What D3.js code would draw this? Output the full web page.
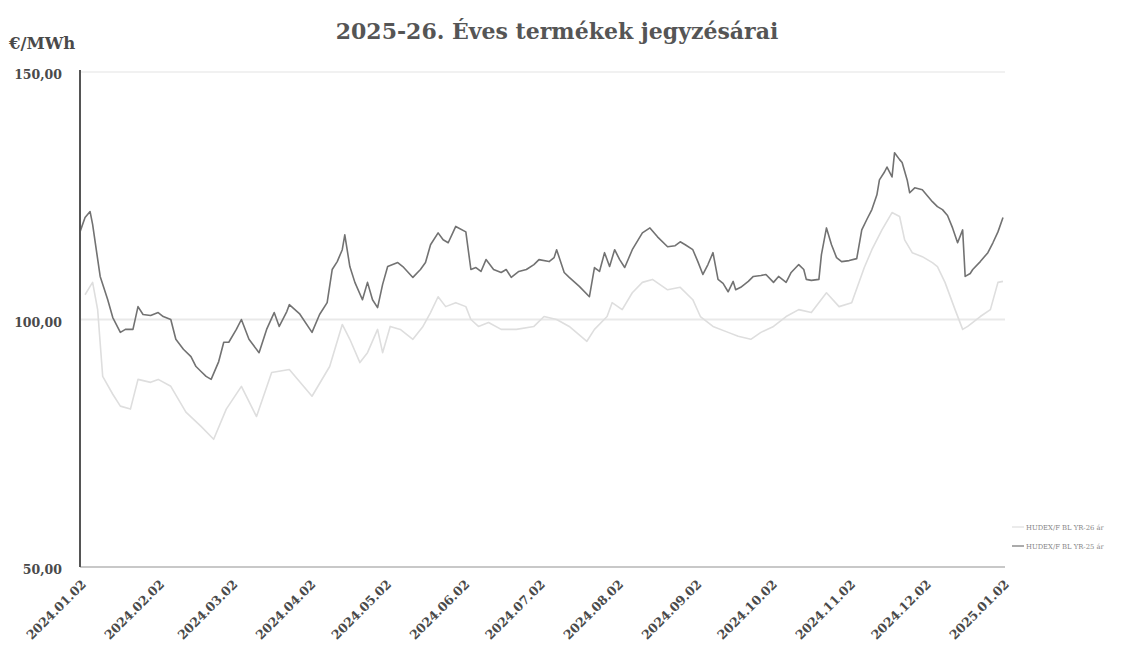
<!DOCTYPE html>
<html>
<head>
<meta charset="utf-8">
<script src="https://cdn.jsdelivr.net/npm/d3@7"></script>
<style>
  body { margin: 0; background: #fff; }
  svg { display: block; }
</style>
</head>
<body>
<div id="chart"></div>
<script>
// upper (dark) product
const darkDates = ["2024-01-02","2024-01-04","2024-01-06","2024-01-07","2024-01-10","2024-01-13","2024-01-15","2024-01-18","2024-01-20","2024-01-23","2024-01-25","2024-01-27","2024-01-30","2024-02-02","2024-02-04","2024-02-07","2024-02-09","2024-02-12","2024-02-15","2024-02-17","2024-02-19","2024-02-21","2024-02-23","2024-02-26","2024-02-28","2024-03-01","2024-03-04","2024-03-06","2024-03-09","2024-03-13","2024-03-16","2024-03-19","2024-03-21","2024-03-24","2024-03-25","2024-03-29","2024-04-03","2024-04-06","2024-04-09","2024-04-11","2024-04-13","2024-04-15","2024-04-16","2024-04-18","2024-04-20","2024-04-23","2024-04-25","2024-04-27","2024-04-29","2024-05-01","2024-05-03","2024-05-07","2024-05-09","2024-05-13","2024-05-16","2024-05-18","2024-05-20","2024-05-23","2024-05-25","2024-05-27","2024-05-29","2024-05-30","2024-06-03","2024-06-05","2024-06-07","2024-06-09","2024-06-11","2024-06-14","2024-06-17","2024-06-19","2024-06-21","2024-06-24","2024-06-27","2024-06-30","2024-07-02","2024-07-06","2024-07-08","2024-07-09","2024-07-12","2024-07-14","2024-07-18","2024-07-22","2024-07-24","2024-07-26","2024-07-28","2024-07-30","2024-08-01","2024-08-03","2024-08-05","2024-08-08","2024-08-12","2024-08-15","2024-08-18","2024-08-22","2024-08-25","2024-08-27","2024-08-29","2024-09-01","2024-09-03","2024-09-05","2024-09-07","2024-09-09","2024-09-11","2024-09-13","2024-09-15","2024-09-17","2024-09-18","2024-09-20","2024-09-23","2024-09-25","2024-09-28","2024-09-30","2024-10-03","2024-10-05","2024-10-08","2024-10-10","2024-10-13","2024-10-15","2024-10-16","2024-10-18","2024-10-21","2024-10-22","2024-10-24","2024-10-26","2024-10-28","2024-10-30","2024-11-02","2024-11-05","2024-11-07","2024-11-09","2024-11-11","2024-11-13","2024-11-14","2024-11-16","2024-11-17","2024-11-19","2024-11-20","2024-11-22","2024-11-23","2024-11-25","2024-11-26","2024-11-28","2024-12-01","2024-12-03","2024-12-05","2024-12-07","2024-12-09","2024-12-11","2024-12-13","2024-12-15","2024-12-17","2024-12-18","2024-12-20","2024-12-21","2024-12-24","2024-12-27","2024-12-29","2024-12-31","2025-01-02"];
const darkValues = [117.7,120.6,121.8,119.2,108.7,104.0,100.4,97.4,98.0,98.0,102.6,101.0,100.8,101.4,100.6,100.0,96.0,94.0,92.5,90.5,89.5,88.5,87.9,91.5,95.4,95.4,98.0,100.0,96.0,93.3,98.0,101.4,98.6,101.6,103.0,101.2,97.4,101.0,103.4,110.1,111.7,114.1,117.1,110.7,107.5,104.0,107.5,104.0,102.4,107.1,110.7,111.5,110.7,108.5,110.1,111.5,115.1,117.5,116.1,115.5,117.7,118.8,117.7,110.1,110.5,109.7,112.1,110.1,109.5,110.1,108.5,109.7,110.1,111.1,112.1,111.7,112.5,114.1,109.5,108.5,106.7,104.6,110.5,109.7,113.5,110.7,114.1,112.1,110.5,114.1,117.5,118.5,116.7,114.7,114.9,115.7,115.1,114.1,111.7,109.1,111.1,113.5,108.1,107.3,105.6,107.7,106.0,106.5,107.7,108.7,108.9,109.1,107.5,108.7,107.5,109.5,111.1,110.1,108.1,107.9,108.1,113.1,118.5,115.1,112.5,111.7,111.9,112.3,118.1,120.2,122.2,125.2,128.2,129.8,130.8,128.8,133.7,132.3,131.7,128.2,125.6,126.6,126.2,125.0,123.8,122.8,122.2,121.0,118.5,115.5,118.1,108.7,109.3,110.1,111.7,113.5,115.5,117.7,120.6];

// lower (light) product
const lightDates = ["2024-01-04","2024-01-06","2024-01-07","2024-01-09","2024-01-11","2024-01-15","2024-01-18","2024-01-22","2024-01-25","2024-01-30","2024-02-02","2024-02-07","2024-02-13","2024-02-19","2024-02-24","2024-02-29","2024-03-06","2024-03-12","2024-03-18","2024-03-25","2024-04-03","2024-04-10","2024-04-15","2024-04-18","2024-04-22","2024-04-25","2024-04-29","2024-05-01","2024-05-04","2024-05-08","2024-05-13","2024-05-17","2024-05-20","2024-05-23","2024-05-26","2024-05-30","2024-06-03","2024-06-05","2024-06-08","2024-06-12","2024-06-17","2024-06-23","2024-06-30","2024-07-04","2024-07-09","2024-07-14","2024-07-21","2024-07-24","2024-07-29","2024-07-31","2024-08-04","2024-08-08","2024-08-12","2024-08-16","2024-08-22","2024-08-27","2024-09-01","2024-09-04","2024-09-09","2024-09-15","2024-09-19","2024-09-24","2024-09-28","2024-10-03","2024-10-08","2024-10-13","2024-10-18","2024-10-24","2024-10-29","2024-11-03","2024-11-08","2024-11-11","2024-11-15","2024-11-19","2024-11-22","2024-11-24","2024-11-27","2024-12-01","2024-12-05","2024-12-07","2024-12-10","2024-12-14","2024-12-17","2024-12-19","2024-12-24","2024-12-28","2024-12-31","2025-01-02"];
const lightValues = [105.0,106.7,107.5,102.0,88.5,84.9,82.5,81.9,87.9,87.3,87.9,86.5,81.3,78.4,75.8,81.9,86.5,80.4,89.3,89.9,84.5,90.5,99.0,96.0,91.3,93.3,98.0,93.3,98.6,98.0,96.0,98.6,101.4,104.6,102.6,103.4,102.6,100.0,98.6,99.4,98.0,98.0,98.6,100.6,100.0,98.6,95.6,98.0,100.6,103.4,102.0,105.4,107.5,108.1,106.0,106.5,104.0,100.6,98.6,97.4,96.6,96.0,97.4,98.6,100.6,102.0,101.4,105.4,102.6,103.4,110.5,114.1,118.1,121.6,120.8,116.1,113.5,112.7,111.5,110.7,107.5,102.0,98.0,98.6,100.6,102.0,107.5,107.7];

const yTicks = [50, 100, 150];
const xTicks = ["2024-01-02","2024-02-02","2024-03-02","2024-04-02","2024-05-02","2024-06-02","2024-07-02","2024-08-02","2024-09-02","2024-10-02","2024-11-02","2024-12-02","2025-01-02"];
const legendNames = ["HUDEX/F BL YR-26 ár", "HUDEX/F BL YR-25 ár"];

const width = 1130, height = 652;
const margin = { top: 72, right: 127, bottom: 85, left: 80 };
const parse = d3.timeParse("%Y-%m-%d");
const fmt = d3.timeFormat("%Y.%m.%d");
const serif = "'DejaVu Serif', 'Liberation Serif', serif";

const dark = darkDates.map((d, i) => ({ date: parse(d), v: darkValues[i] }));
const light = lightDates.map((d, i) => ({ date: parse(d), v: lightValues[i] }));

const svg = d3.select("#chart").append("svg")
  .attr("width", width).attr("height", height)
  .style("font-family", serif);

const x = d3.scaleTime()
  .domain([parse(xTicks[0]), parse(xTicks[xTicks.length - 1])])
  .range([margin.left, width - margin.right]);
const y = d3.scaleLinear().domain([50, 150]).range([height - margin.bottom, margin.top]);

// horizontal rules at 150 and 100
svg.append("line")
  .attr("x1", x.range()[0]).attr("x2", x.range()[1] + 2)
  .attr("y1", y(150)).attr("y2", y(150))
  .attr("stroke", "#f1f1f1").attr("stroke-width", 2);
svg.append("line")
  .attr("x1", x.range()[0]).attr("x2", x.range()[1] + 2)
  .attr("y1", y(100)).attr("y2", y(100))
  .attr("stroke", "#e9e9e9").attr("stroke-width", 2);

// bottom axis line
svg.append("line")
  .attr("x1", x.range()[0]).attr("x2", x.range()[1] + 2)
  .attr("y1", y(50)).attr("y2", y(50))
  .attr("stroke", "#c8c8c8").attr("stroke-width", 2);

// line generator
const line = d3.line().x((d) => x(d.date)).y((d) => y(d.v));

svg.append("path").datum(light)
  .attr("fill", "none").attr("stroke", "#dedede").attr("stroke-width", 1.6)
  .attr("stroke-linejoin", "round").attr("d", line);
svg.append("path").datum(dark)
  .attr("fill", "none").attr("stroke", "#727272").attr("stroke-width", 1.6)
  .attr("stroke-linejoin", "round").attr("d", line);

// y axis
svg.append("line")
  .attr("x1", margin.left).attr("x2", margin.left)
  .attr("y1", y(150) - 2).attr("y2", y(50))
  .attr("stroke", "#555").attr("stroke-width", 2);

svg.selectAll(".ytick").data(yTicks).join("text")
  .attr("class", "ytick")
  .attr("x", 62).attr("y", (d) => y(d) + 7)
  .attr("text-anchor", "end")
  .attr("font-size", 12.5).attr("font-weight", "bold").attr("fill", "#4a4a4a")
  .text((d) => d3.format(".2f")(d).replace(".", ","));

svg.append("text")
  .attr("x", 9).attr("y", 49)
  .attr("font-size", 16.5).attr("font-weight", "bold").attr("fill", "#4a4a4a")
  .text("€/MWh");

// x labels, rotated
svg.selectAll(".xtick").data(xTicks).join("text")
  .attr("class", "xtick")
  .attr("text-anchor", "end")
  .attr("font-size", 12.5).attr("font-weight", "bold").attr("fill", "#4a4a4a")
  .attr("transform", (d) => `translate(${x(parse(d)) + 7}, ${y(50) + 18}) rotate(-45)`)
  .text((d) => fmt(parse(d)));

// title
svg.append("text")
  .attr("x", 557).attr("y", 39)
  .attr("text-anchor", "middle")
  .attr("font-size", 22).attr("font-weight", "bold").attr("fill", "#555")
  .text("2025-26. Éves termékek jegyzésárai");

// legend
const legend = svg.append("g").attr("transform", "translate(1012, 527)");
const legendColors = ["#dedede", "#727272"];
legendNames.forEach((name, i) => {
  const g = legend.append("g").attr("transform", `translate(0, ${i * 19})`);
  g.append("line").attr("x1", 0).attr("x2", 12).attr("y1", 0).attr("y2", 0)
    .attr("stroke", legendColors[i]).attr("stroke-width", 1.2);
  g.append("text").attr("x", 14).attr("y", 3)
    .attr("font-size", 6.8).attr("fill", "#888")
    .text(name);
});
</script>
</body>
</html>
